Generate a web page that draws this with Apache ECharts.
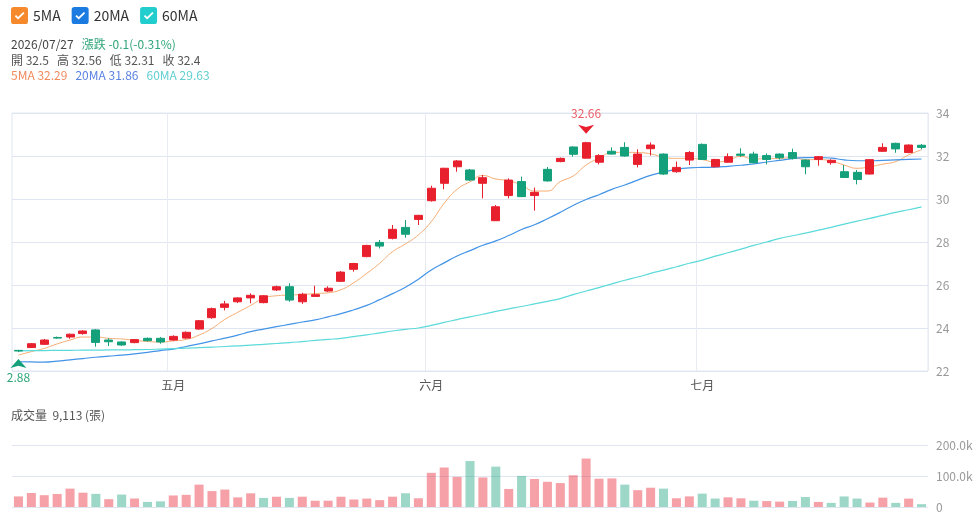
<!DOCTYPE html>
<html>
<head>
<meta charset="utf-8">
<script src="https://cdn.jsdelivr.net/npm/echarts@6/dist/echarts.min.js"></script>
<style>
  html, body { margin: 0; padding: 0; background: #fff; }
  #chart { width: 979px; height: 519px; }
</style>
</head>
<body>
<div id="chart"></div>
<script>
// 交易日
const dates = [
  '2026/04/15', '2026/04/16', '2026/04/17', '2026/04/20', '2026/04/21', '2026/04/22',
  '2026/04/23', '2026/04/24', '2026/04/27', '2026/04/28', '2026/04/29', '2026/04/30',
  '2026/05/04', '2026/05/05', '2026/05/06', '2026/05/07', '2026/05/08', '2026/05/11',
  '2026/05/12', '2026/05/13', '2026/05/14', '2026/05/15', '2026/05/18', '2026/05/19',
  '2026/05/20', '2026/05/21', '2026/05/22', '2026/05/25', '2026/05/26', '2026/05/27',
  '2026/05/28', '2026/05/29', '2026/06/01', '2026/06/02', '2026/06/03', '2026/06/04',
  '2026/06/05', '2026/06/08', '2026/06/09', '2026/06/10', '2026/06/11', '2026/06/12',
  '2026/06/15', '2026/06/16', '2026/06/17', '2026/06/18', '2026/06/22', '2026/06/23',
  '2026/06/24', '2026/06/25', '2026/06/26', '2026/06/29', '2026/06/30', '2026/07/01',
  '2026/07/02', '2026/07/06', '2026/07/07', '2026/07/08', '2026/07/09', '2026/07/10',
  '2026/07/13', '2026/07/14', '2026/07/15', '2026/07/16', '2026/07/17', '2026/07/20',
  '2026/07/21', '2026/07/22', '2026/07/23', '2026/07/24', '2026/07/27'
]

// 開 收 低 高
const opens = [
  22.96, 23.09, 23.24, 23.56, 23.58, 23.74, 23.91, 23.44, 23.35, 23.32, 23.52, 23.52,
  23.44, 23.53, 23.95, 24.48, 24.96, 25.22, 25.40, 25.18, 25.77, 25.92, 25.22, 25.47,
  25.72, 26.17, 26.73, 27.32, 27.98, 28.17, 28.68, 29.05, 29.92, 30.73, 31.50, 31.35,
  30.73, 28.99, 30.16, 30.81, 30.16, 31.38, 31.74, 32.42, 31.90, 31.71, 32.22, 32.40,
  31.61, 32.34, 32.09, 31.27, 31.81, 32.54, 31.50, 31.71, 32.09, 32.09, 32.02, 32.09,
  32.16, 31.81, 31.84, 31.69, 31.27, 31.24, 31.16, 32.22, 32.59, 32.16, 32.50
]
const closes = [
  22.93, 23.27, 23.44, 23.53, 23.71, 23.86, 23.33, 23.36, 23.21, 23.46, 23.41, 23.35,
  23.61, 23.80, 24.34, 24.90, 25.12, 25.40, 25.52, 25.50, 25.92, 25.30, 25.57, 25.55,
  25.85, 26.60, 27.00, 27.84, 27.81, 28.59, 28.36, 29.24, 30.50, 31.43, 31.77, 30.88,
  30.99, 29.64, 30.88, 30.11, 30.31, 30.84, 31.89, 32.08, 32.62, 32.02, 32.09, 32.00,
  32.09, 32.51, 31.16, 31.47, 32.16, 31.84, 31.84, 31.97, 32.03, 31.69, 31.84, 31.92,
  31.89, 31.50, 31.97, 31.80, 31.00, 30.91, 31.83, 32.40, 32.33, 32.51, 32.40
]
const lows = [
  22.88, 23.07, 23.21, 23.50, 23.50, 23.69, 23.13, 23.16, 23.17, 23.29, 23.37, 23.27,
  23.41, 23.50, 23.92, 24.43, 24.82, 25.16, 25.15, 25.15, 25.72, 25.22, 25.12, 25.45,
  25.68, 26.14, 26.62, 27.29, 27.70, 28.12, 28.20, 28.79, 29.88, 30.45, 31.27, 30.84,
  30.03, 28.98, 30.03, 30.09, 29.46, 30.81, 31.71, 31.97, 31.88, 31.61, 32.07, 31.97,
  31.47, 32.02, 31.12, 31.22, 31.58, 31.82, 31.47, 31.68, 31.96, 31.66, 31.61, 31.84,
  31.84, 31.15, 31.55, 31.60, 30.98, 30.68, 31.14, 32.19, 32.15, 32.13, 32.31
]
const highs = [
  22.98, 23.30, 23.49, 23.60, 23.74, 23.90, 23.95, 23.52, 23.38, 23.48, 23.56, 23.58,
  23.66, 23.84, 24.37, 24.95, 25.26, 25.43, 25.61, 25.53, 25.97, 26.08, 25.64, 25.97,
  25.94, 26.65, 27.03, 27.87, 28.09, 28.79, 29.02, 29.26, 30.62, 31.45, 31.81, 31.40,
  31.12, 29.72, 30.96, 31.04, 30.53, 31.49, 31.93, 32.45, 32.66, 32.08, 32.40, 32.64,
  32.31, 32.63, 32.12, 31.74, 32.23, 32.58, 31.87, 32.12, 32.36, 32.20, 32.12, 32.12,
  32.34, 31.84, 32.00, 31.85, 31.58, 31.35, 31.85, 32.59, 32.62, 32.54, 32.56
]

// 均線
const ma5 = [
  22.74, 22.90, 23.05, 23.26, 23.44, 23.58, 23.58, 23.52, 23.49, 23.43, 23.37, 23.35,
  23.40, 23.47, 23.67, 23.98, 24.40, 24.73, 25.05, 25.38, 25.50, 25.53, 25.56, 25.60,
  25.64, 25.78, 26.11, 26.54, 27.01, 27.55, 27.91, 28.33, 28.95, 29.80, 30.45, 30.80,
  31.09, 30.93, 30.85, 30.65, 30.37, 30.37, 30.81, 31.07, 31.58, 31.90, 32.16, 32.17,
  32.16, 32.10, 31.94, 31.89, 31.89, 31.83, 31.72, 31.80, 31.98, 31.86, 31.88, 31.88,
  31.94, 31.83, 31.83, 31.77, 31.58, 31.43, 31.50, 31.62, 31.74, 32.05, 32.29
]
const ma20 = [
  22.43, 22.42, 22.41, 22.46, 22.52, 22.58, 22.64, 22.69, 22.74, 22.80, 22.87, 22.95,
  23.02, 23.14, 23.26, 23.40, 23.53, 23.67, 23.83, 23.95, 24.06, 24.17, 24.28, 24.38,
  24.52, 24.67, 24.85, 25.05, 25.32, 25.60, 25.90, 26.27, 26.70, 27.03, 27.35, 27.60,
  27.85, 28.05, 28.30, 28.58, 28.80, 29.08, 29.38, 29.70, 29.98, 30.20, 30.45, 30.65,
  30.88, 31.10, 31.25, 31.38, 31.45, 31.47, 31.48, 31.52, 31.57, 31.63, 31.72, 31.80,
  31.88, 31.92, 31.93, 31.90, 31.82, 31.78, 31.78, 31.80, 31.82, 31.84, 31.86
]
const ma60 = [
  22.94, 22.95, 22.95, 22.96, 22.96, 22.97, 22.97, 22.98, 22.98, 22.99, 23.00, 23.02,
  23.04, 23.06, 23.09, 23.11, 23.14, 23.17, 23.20, 23.24, 23.28, 23.32, 23.37, 23.42,
  23.47, 23.52, 23.60, 23.68, 23.77, 23.86, 23.94, 24.00, 24.12, 24.26, 24.39, 24.52,
  24.64, 24.77, 24.89, 25.00, 25.12, 25.24, 25.37, 25.55, 25.72, 25.88, 26.05, 26.22,
  26.37, 26.54, 26.69, 26.85, 27.01, 27.16, 27.34, 27.50, 27.67, 27.84, 28.00, 28.17,
  28.29, 28.41, 28.55, 28.68, 28.83, 28.97, 29.10, 29.24, 29.38, 29.50, 29.63
]

// 成交量 (張)，volUp: 1 紅 / 0 綠
const volumes = [
  34120, 45260, 38140, 42050, 59310, 46180, 42370, 25240, 40150, 27380, 16420, 18230,
  37160, 39270, 72140, 51330, 56210, 31060, 44180, 29250, 33140, 29310, 33270, 20160,
  20340, 33120, 24280, 27150, 22040, 33260, 44310, 28170, 110240, 127380, 97160, 148220,
  95310, 130170, 58240, 100120, 90360, 81250, 77140, 102330, 156280, 91170, 92240, 72150,
  54320, 62180, 59260, 28140, 34270, 43150, 27320, 31180, 28060, 20240, 19170, 17230,
  19310, 32140, 16250, 13180, 34060, 27210, 14330, 30150, 13260, 27120, 9113
]
const volUp = [
  1, 1, 1, 1, 1, 1, 0, 1, 0, 1, 0, 0, 1, 1, 1, 1, 1, 1, 1, 0, 1, 0, 1, 1,
  1, 1, 1, 1, 1, 1, 0, 1, 1, 1, 1, 0, 1, 0, 1, 0, 1, 1, 1, 1, 1, 1, 1, 0,
  1, 1, 0, 1, 1, 0, 0, 1, 1, 0, 1, 1, 0, 0, 1, 0, 0, 0, 1, 1, 0, 1, 0
]

const monthNames = ['一月', '二月', '三月', '四月', '五月', '六月', '七月', '八月', '九月', '十月', '十一月', '十二月']
const minMarkText = '2.88'

const UP = '#e8202e'
const DOWN = '#14a07a'

function monthOf(i) {
  return Number(dates[i].split('/')[1])
}
function isMonthStart(i) {
  return i > 0 && monthOf(i) !== monthOf(i - 1)
}

// 最高 / 最低
let maxIdx = 0
let minIdx = 0
highs.forEach((v, i) => { if (v > highs[maxIdx]) maxIdx = i })
lows.forEach((v, i) => { if (v < lows[minIdx]) minIdx = i })

const candleData = opens.map((o, i) => [o, closes[i], lows[i], highs[i]])
const volData = volumes.map((v, i) => ({
  value: v,
  itemStyle: { color: volUp[i] ? 'rgba(232,32,46,0.42)' : 'rgba(20,160,122,0.42)' }
}))

// 最後一筆資訊
const last = dates.length - 1
const chg = closes[last] - opens[last]
const chgPct = chg / opens[last] * 100
const fmt = v => String(Number(v.toFixed(2)))

const checkIcon = 'path://M3,0H15Q18,0,18,3V15Q18,18,15,18H3Q0,18,0,15V3Q0,0,3,0Z' +
  'M4,9.8L7.5,13.3L14.3,6.5L13,5.2L7.5,10.7L5.3,8.5Z'

const font = 'Noto Sans CJK TC'

const option = {
  animation: false,
  backgroundColor: '#fff',
  textStyle: { fontFamily: font },
  legend: {
    data: ['5MA', '20MA', '60MA'],
    left: 11,
    top: 7,
    padding: 0,
    icon: checkIcon,
    itemWidth: 17,
    itemHeight: 17,
    itemGap: 11,
    textStyle: { color: '#333', fontSize: 14, fontFamily: font }
  },
  graphic: [
    {
      type: 'text',
      left: 11,
      top: 37,
      style: {
        text: '{d|' + dates[last] + '}   {g|漲跌 ' + fmt(chg) + '(' + chgPct.toFixed(2) + '%)}\n' +
          '{p|開 ' + fmt(opens[last]) + '   高 ' + fmt(highs[last]) + '   低 ' + fmt(lows[last]) +
          '   收 ' + fmt(closes[last]) + '}\n' +
          '{a|5MA ' + fmt(ma5[last]) + '}   {b|20MA ' + fmt(ma20[last]) + '}   {c|60MA ' + fmt(ma60[last]) + '}',
        font: '12px "' + font + '"',
        lineHeight: 15.5,
        rich: {
          d: { fill: '#444', fontSize: 12, lineHeight: 15.5, fontFamily: font },
          g: { fill: chg < 0 ? '#2fa57a' : UP, fontSize: 12, lineHeight: 15.5, fontFamily: font },
          p: { fill: '#555', fontSize: 12, lineHeight: 15.5, fontFamily: font },
          a: { fill: '#f28b5c', fontSize: 12, lineHeight: 15.5, fontFamily: font },
          b: { fill: '#5b82e2', fontSize: 12, lineHeight: 15.5, fontFamily: font },
          c: { fill: '#63cfd0', fontSize: 12, lineHeight: 15.5, fontFamily: font }
        }
      }
    },
    {
      type: 'text',
      left: 11,
      top: 409,
      style: {
        text: '成交量  ' + volumes[last].toLocaleString('en-US') + ' (張)',
        fill: '#555',
        font: '12px "' + font + '"'
      }
    }
  ],
  grid: [
    { left: 12, right: 51, top: 113, height: 258, show: true, borderColor: '#E0E6F1', borderWidth: 1 },
    { left: 12, right: 51, top: 445, height: 62 }
  ],
  xAxis: [
    {
      type: 'category',
      data: dates,
      gridIndex: 0,
      boundaryGap: true,
      axisLine: { show: false },
      axisTick: { show: false },
      axisLabel: {
        interval: (i) => isMonthStart(i),
        formatter: (v) => monthNames[Number(v.split('/')[1]) - 1],
        color: '#555',
        fontSize: 12,
        margin: 8
      },
      splitLine: {
        show: true,
        interval: (i) => isMonthStart(i),
        lineStyle: { color: '#E8EBF2' }
      }
    },
    {
      type: 'category',
      data: dates,
      gridIndex: 1,
      boundaryGap: true,
      axisLine: { show: false },
      axisTick: { show: false },
      axisLabel: { show: false },
      splitLine: { show: false }
    }
  ],
  yAxis: [
    {
      gridIndex: 0,
      position: 'right',
      min: 22,
      max: 34,
      interval: 2,
      axisLine: { show: false },
      axisTick: { show: false },
      axisLabel: { color: '#999', fontSize: 12, margin: 8 },
      splitLine: { lineStyle: { color: '#E0E6F1' } }
    },
    {
      gridIndex: 1,
      position: 'right',
      min: 0,
      max: 200000,
      interval: 100000,
      axisLine: { show: false },
      axisTick: { show: false },
      axisLabel: {
        color: '#999',
        fontSize: 12,
        margin: 8,
        formatter: (v) => v === 0 ? '0' : (v / 1000).toFixed(1) + 'k'
      },
      splitLine: { lineStyle: { color: '#E0E6F1' } }
    }
  ],
  series: [
    {
      name: '5MA',
      type: 'line',
      data: ma5,
      smooth: true,
      showSymbol: false,
      color: '#f5892b',
      lineStyle: { width: 1, color: '#f6ab70' },
      z: 2
    },
    {
      name: '20MA',
      type: 'line',
      data: ma20,
      smooth: true,
      showSymbol: false,
      color: '#1c7be0',
      lineStyle: { width: 1.2, color: '#4394e6' },
      z: 2
    },
    {
      name: '60MA',
      type: 'line',
      data: ma60,
      smooth: true,
      showSymbol: false,
      color: '#22cdcd',
      lineStyle: { width: 1.2, color: '#5cdada' },
      z: 2
    },
    {
      name: 'K',
      type: 'candlestick',
      data: candleData,
      barWidth: '66%',
      itemStyle: {
        color: UP,
        color0: DOWN,
        borderColor: UP,
        borderColor0: DOWN,
        borderWidth: 1
      },
      z: 3,
      markPoint: {
        symbol: 'arrow',
        symbolSize: [12, 9],
        data: [
          {
            name: 'max',
            coord: [maxIdx, highs[maxIdx]],
            value: highs[maxIdx],
            symbolRotate: 180,
            symbolOffset: [0, -8],
            itemStyle: { color: UP },
            label: { show: true, position: 'top', distance: 5, color: '#eb5d66', fontSize: 12, formatter: fmt(highs[maxIdx]) }
          },
          {
            name: 'min',
            coord: [minIdx, lows[minIdx]],
            value: lows[minIdx],
            symbolOffset: [0, 7],
            itemStyle: { color: DOWN },
            label: { show: true, position: 'bottom', distance: 3, color: '#2fa57a', fontSize: 12, formatter: minMarkText }
          }
        ]
      }
    },
    {
      name: 'VOL',
      type: 'bar',
      xAxisIndex: 1,
      yAxisIndex: 1,
      data: volData,
      barWidth: '70%'
    }
  ]
}

const chart = echarts.init(document.getElementById('chart'))
chart.setOption(option)
window.addEventListener('resize', function () {
  chart.resize()
})
</script>
</body>
</html>
